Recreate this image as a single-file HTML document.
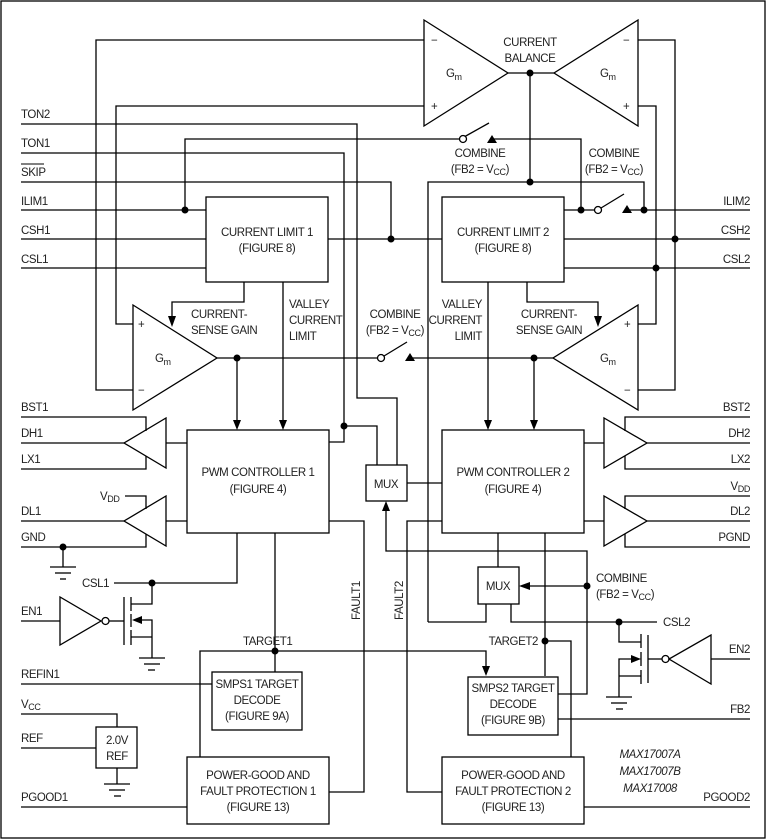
<!DOCTYPE html>
<html><head><meta charset="utf-8"><style>
html,body{margin:0;padding:0;background:#fff}
svg{display:block}
text{font-family:"Liberation Sans",sans-serif;font-size:11.5px;fill:#222;letter-spacing:-0.4px}
</style></head><body>
<svg width="767" height="840" viewBox="0 0 767 840" xmlns="http://www.w3.org/2000/svg">
<g fill="none" stroke="#000" stroke-width="1.3">
<rect x="1" y="1" width="764" height="837"/>
<polygon points="424,20 424,126 508,73"/>
<polygon points="638,20 638,126 554,73"/>
<polyline points="508,73 554,73"/>
<polyline points="424,40 96,40 96,390 133,390"/>
<polyline points="424,106 116,106 116,324 133,324"/>
<polyline points="638,40 675,40 675,390 638,390"/>
<polyline points="638,106 656,106 656,324 638,324"/>
<polyline points="530,73 530,182"/>
<polyline points="21,124 357,124 357,398 397,398 397,465"/>
<polyline points="21,153 344,153 344,442 329,442"/>
<polyline points="344,426 377,426 377,465"/>
<polyline points="185,210 185,139 460,139"/>
<line x1="464" y1="137" x2="489" y2="123"/>
<polyline points="492,139 581,139 581,210"/>
<polyline points="21,182 391,182 391,239"/>
<polyline points="428,622 428,182 644,182 644,210"/>
<polyline points="428,622 486,622 486,604"/>
<line x1="21" y1="210" x2="206" y2="210"/>
<line x1="21" y1="239" x2="206" y2="239"/>
<line x1="21" y1="268" x2="206" y2="268"/>
<line x1="328" y1="239" x2="442" y2="239"/>
<rect x="206" y="197" width="122" height="85"/>
<rect x="442" y="197" width="122" height="85"/>
<polyline points="564,210 594,210"/>
<line x1="601" y1="208" x2="624" y2="194"/>
<line x1="627" y1="210" x2="750" y2="210"/>
<line x1="564" y1="239" x2="750" y2="239"/>
<line x1="564" y1="268" x2="750" y2="268"/>
<polyline points="244,282 244,302 172,302 172,318"/>
<polyline points="283,282 283,422"/>
<polyline points="527,282 527,302 598,302 598,318"/>
<polyline points="488,282 488,422"/>
<polygon points="133,305 133,410 217,358"/>
<polygon points="638,305 638,410 553,358"/>
<line x1="217" y1="358" x2="377" y2="358"/>
<line x1="384" y1="356" x2="407" y2="342"/>
<line x1="410" y1="358" x2="553" y2="358"/>
<line x1="237" y1="358" x2="237" y2="422"/>
<line x1="534" y1="358" x2="534" y2="422"/>
<rect x="187" y="430" width="142" height="103"/>
<rect x="442" y="430" width="142" height="103"/>
<polygon points="166,418 166,468 124,443"/>
<polygon points="166,496 166,546 124,521"/>
<polyline points="21,417 146,417 146,431"/>
<line x1="21" y1="443" x2="124" y2="443"/>
<line x1="166" y1="443" x2="187" y2="443"/>
<polyline points="21,469 146,469 146,456"/>
<polyline points="125,496 146,496 146,509"/>
<line x1="21" y1="521" x2="124" y2="521"/>
<line x1="166" y1="521" x2="187" y2="521"/>
<polyline points="21,547 146,547 146,534"/>
<polyline points="63,547 63,567"/>
<line x1="50" y1="567" x2="76" y2="567"/><line x1="55" y1="573" x2="71" y2="573"/><line x1="60" y1="579" x2="66" y2="579"/>
<polygon points="604,418 604,468 647,443"/>
<polygon points="604,496 604,546 647,521"/>
<polyline points="750,417 625,417 625,431"/>
<line x1="647" y1="443" x2="750" y2="443"/>
<line x1="584" y1="443" x2="604" y2="443"/>
<polyline points="750,469 625,469 625,456"/>
<polyline points="750,496 625,496 625,509"/>
<line x1="647" y1="521" x2="750" y2="521"/>
<line x1="584" y1="521" x2="604" y2="521"/>
<polyline points="750,547 625,547 625,534"/>
<polyline points="114,583 237,583 237,533"/>
<polyline points="152,583 152,604 131,604"/>
<line x1="124" y1="597" x2="124" y2="645"/>
<line x1="131" y1="597" x2="131" y2="611"/><line x1="131" y1="614" x2="131" y2="627"/><line x1="131" y1="630" x2="131" y2="645"/>
<polyline points="140,620 152,620 152,658"/>
<line x1="131" y1="637" x2="152" y2="637"/>
<line x1="139" y1="658" x2="165" y2="658"/><line x1="144" y1="664" x2="160" y2="664"/><line x1="148" y1="670" x2="155" y2="670"/>
<polygon points="60,597 60,645 101,621"/>
<circle cx="105.5" cy="621" r="3.5"/>
<line x1="21" y1="621" x2="60" y2="621"/>
<line x1="109" y1="621" x2="124" y2="621"/>
<line x1="275" y1="533" x2="275" y2="672"/>
<polyline points="200,757 200,651 486,651 486,668"/>
<rect x="212" y="672" width="90" height="58"/>
<line x1="21" y1="684" x2="212" y2="684"/>
<polyline points="21,714 117,714 117,727"/>
<rect x="96" y="727" width="41" height="41"/>
<line x1="21" y1="748" x2="96" y2="748"/>
<line x1="117" y1="768" x2="117" y2="784"/>
<line x1="104" y1="784" x2="130" y2="784"/><line x1="109" y1="790" x2="125" y2="790"/><line x1="114" y1="796" x2="121" y2="796"/>
<rect x="187" y="757" width="142" height="67"/>
<line x1="21" y1="807" x2="187" y2="807"/>
<polyline points="329,792 364,792 364,521 329,521"/>
<rect x="366" y="465" width="41" height="36"/>
<line x1="407" y1="483" x2="442" y2="483"/>
<polyline points="386,509 386,551 587,551 587,694 558,694"/>
<polyline points="442,521 407,521 407,792 442,792"/>
<rect x="478" y="567" width="41" height="37"/>
<line x1="498" y1="533" x2="498" y2="567"/>
<line x1="527" y1="586" x2="587" y2="586"/>
<line x1="545" y1="533" x2="545" y2="676"/>
<polyline points="545,641 571,641 571,757"/>
<polyline points="511,604 511,622 657,622"/>
<polyline points="619,622 619,642 641,642"/>
<line x1="648" y1="635" x2="648" y2="683"/>
<line x1="641" y1="634" x2="641" y2="648"/><line x1="641" y1="652" x2="641" y2="666"/><line x1="641" y1="670" x2="641" y2="684"/>
<polyline points="632,659 619,659 619,697"/>
<line x1="619" y1="676" x2="641" y2="676"/>
<line x1="606" y1="697" x2="632" y2="697"/><line x1="611" y1="703" x2="627" y2="703"/><line x1="616" y1="709" x2="623" y2="709"/>
<polygon points="711,635 711,684 669,659"/>
<circle cx="665.5" cy="659" r="3.5"/>
<line x1="711" y1="659" x2="750" y2="659"/>
<line x1="648" y1="659" x2="662" y2="659"/>
<rect x="468" y="677" width="90" height="58"/>
<line x1="558" y1="719" x2="750" y2="719"/>
<rect x="442" y="757" width="142" height="67"/>
<line x1="584" y1="807" x2="750" y2="807"/>
</g>
<g fill="#fff" stroke="#000" stroke-width="1.3">
<circle cx="463" cy="139" r="3.5"/>
<circle cx="598" cy="210" r="3.5"/>
<circle cx="381" cy="358" r="3.5"/>
</g>
<g fill="#000">
<circle cx="530" cy="73" r="3.5"/><circle cx="530" cy="182" r="3.5"/>
<circle cx="185" cy="210" r="3.5"/><circle cx="391" cy="239" r="3.5"/>
<circle cx="581" cy="210" r="3.5"/><circle cx="644" cy="210" r="3.5"/>
<circle cx="675" cy="239" r="3.5"/><circle cx="656" cy="268" r="3.5"/>
<circle cx="237" cy="358" r="3.5"/><circle cx="534" cy="358" r="3.5"/>
<circle cx="344" cy="426" r="3.5"/><circle cx="63" cy="547" r="3.5"/>
<circle cx="152" cy="583" r="3.5"/><circle cx="275" cy="651" r="3.5"/>
<circle cx="587" cy="586" r="3.5"/><circle cx="545" cy="641" r="3.5"/>
<circle cx="619" cy="622" r="3.5"/>
<polygon points="487,143 492,135 497,143"/>
<polygon points="622,213 627,205 632,213"/>
<polygon points="405,361 410,353 415,361"/>
<polygon points="168,316 176,316 172,327"/>
<polygon points="594,316 602,316 598,327"/>
<polygon points="233,420 241,420 237,430"/>
<polygon points="279,420 287,420 283,430"/>
<polygon points="484,420 492,420 488,430"/>
<polygon points="530,420 538,420 534,430"/>
<polygon points="382,511 390,511 386,501"/>
<polygon points="482,666 490,666 486,676"/>
<polygon points="519,586 530,582 530,590"/>
<polygon points="132,620 142,616 142,624"/>
<polygon points="641,659 631,655 631,663"/>
</g>
<g>
<text x="530" y="46" text-anchor="middle">CURRENT</text>
<text x="530" y="62" text-anchor="middle">BALANCE</text>
<text x="446" y="77">G<tspan font-size="9" dy="3">m</tspan></text>
<text x="600" y="77">G<tspan font-size="9" dy="3">m</tspan></text>
<text x="155" y="362">G<tspan font-size="9" dy="3">m</tspan></text>
<text x="600" y="362">G<tspan font-size="9" dy="3">m</tspan></text>
<text x="431" y="44">−</text><text x="431" y="110">+</text>
<text x="623" y="44">−</text><text x="623" y="110">+</text>
<text x="138" y="328">+</text><text x="138" y="394">−</text>
<text x="624" y="328">+</text><text x="624" y="394">−</text>
<text x="21" y="118">TON2</text>
<text x="21" y="147">TON1</text>
<text x="21" y="176">SKIP</text>
<line x1="21" y1="164" x2="44" y2="164" stroke="#000" stroke-width="1"/>
<text x="21" y="205">ILIM1</text>
<text x="21" y="234">CSH1</text>
<text x="21" y="263">CSL1</text>
<text x="750" y="205" text-anchor="end">ILIM2</text>
<text x="750" y="234" text-anchor="end">CSH2</text>
<text x="750" y="263" text-anchor="end">CSL2</text>
<text x="480" y="157" text-anchor="middle">COMBINE</text>
<text x="480" y="173" text-anchor="middle">(FB2 = V<tspan font-size="9" dy="2">CC</tspan><tspan dy="-2">)</tspan></text>
<text x="614" y="157" text-anchor="middle">COMBINE</text>
<text x="614" y="173" text-anchor="middle">(FB2 = V<tspan font-size="9" dy="2">CC</tspan><tspan dy="-2">)</tspan></text>
<text x="395" y="318" text-anchor="middle">COMBINE</text>
<text x="395" y="334" text-anchor="middle">(FB2 = V<tspan font-size="9" dy="2">CC</tspan><tspan dy="-2">)</tspan></text>
<text x="267" y="236" text-anchor="middle">CURRENT LIMIT 1</text>
<text x="267" y="252" text-anchor="middle">(FIGURE 8)</text>
<text x="503" y="236" text-anchor="middle">CURRENT LIMIT 2</text>
<text x="503" y="252" text-anchor="middle">(FIGURE 8)</text>
<text x="191" y="318">CURRENT-</text>
<text x="191" y="334">SENSE GAIN</text>
<text x="289" y="308">VALLEY</text>
<text x="289" y="324">CURRENT</text>
<text x="289" y="340">LIMIT</text>
<text x="482" y="308" text-anchor="end">VALLEY</text>
<text x="482" y="324" text-anchor="end">CURRENT</text>
<text x="482" y="340" text-anchor="end">LIMIT</text>
<text x="549" y="318" text-anchor="middle">CURRENT-</text>
<text x="549" y="334" text-anchor="middle">SENSE GAIN</text>
<text x="258" y="476" text-anchor="middle">PWM CONTROLLER 1</text>
<text x="258" y="493" text-anchor="middle">(FIGURE 4)</text>
<text x="513" y="476" text-anchor="middle">PWM CONTROLLER 2</text>
<text x="513" y="493" text-anchor="middle">(FIGURE 4)</text>
<text x="386" y="488" text-anchor="middle">MUX</text>
<text x="498" y="590" text-anchor="middle">MUX</text>
<text x="21" y="411">BST1</text>
<text x="21" y="437">DH1</text>
<text x="21" y="463">LX1</text>
<text x="100" y="500">V<tspan font-size="9" dy="2">DD</tspan></text>
<text x="21" y="515">DL1</text>
<text x="21" y="541">GND</text>
<text x="750" y="411" text-anchor="end">BST2</text>
<text x="750" y="437" text-anchor="end">DH2</text>
<text x="750" y="463" text-anchor="end">LX2</text>
<text x="750" y="490" text-anchor="end">V<tspan font-size="9" dy="2">DD</tspan></text>
<text x="750" y="515" text-anchor="end">DL2</text>
<text x="750" y="541" text-anchor="end">PGND</text>
<text x="82" y="587">CSL1</text>
<text x="21" y="615">EN1</text>
<text x="243" y="645">TARGET1</text>
<text x="257" y="688" text-anchor="middle">SMPS1 TARGET</text>
<text x="257" y="704" text-anchor="middle">DECODE</text>
<text x="257" y="720" text-anchor="middle">(FIGURE 9A)</text>
<text x="21" y="678">REFIN1</text>
<text x="21" y="708">V<tspan font-size="9" dy="2">CC</tspan></text>
<text x="21" y="742">REF</text>
<text x="117" y="744" text-anchor="middle">2.0V</text>
<text x="117" y="760" text-anchor="middle">REF</text>
<text x="258" y="779" text-anchor="middle">POWER-GOOD AND</text>
<text x="258" y="795" text-anchor="middle">FAULT PROTECTION 1</text>
<text x="258" y="811" text-anchor="middle">(FIGURE 13)</text>
<text x="21" y="801">PGOOD1</text>
<text transform="translate(360,620) rotate(-90)">FAULT1</text>
<text transform="translate(403,620) rotate(-90)">FAULT2</text>
<text x="596" y="582">COMBINE</text>
<text x="596" y="598">(FB2 = V<tspan font-size="9" dy="2">CC</tspan><tspan dy="-2">)</tspan></text>
<text x="663" y="626">CSL2</text>
<text x="538" y="645" text-anchor="end">TARGET2</text>
<text x="750" y="653" text-anchor="end">EN2</text>
<text x="513" y="692" text-anchor="middle">SMPS2 TARGET</text>
<text x="513" y="708" text-anchor="middle">DECODE</text>
<text x="513" y="724" text-anchor="middle">(FIGURE 9B)</text>
<text x="750" y="713" text-anchor="end">FB2</text>
<text x="650" y="758" text-anchor="middle" font-style="italic">MAX17007A</text>
<text x="650" y="775" text-anchor="middle" font-style="italic">MAX17007B</text>
<text x="650" y="792" text-anchor="middle" font-style="italic">MAX17008</text>
<text x="513" y="779" text-anchor="middle">POWER-GOOD AND</text>
<text x="513" y="795" text-anchor="middle">FAULT PROTECTION 2</text>
<text x="513" y="811" text-anchor="middle">(FIGURE 13)</text>
<text x="750" y="801" text-anchor="end">PGOOD2</text>
</g>
</svg>
</body></html>
